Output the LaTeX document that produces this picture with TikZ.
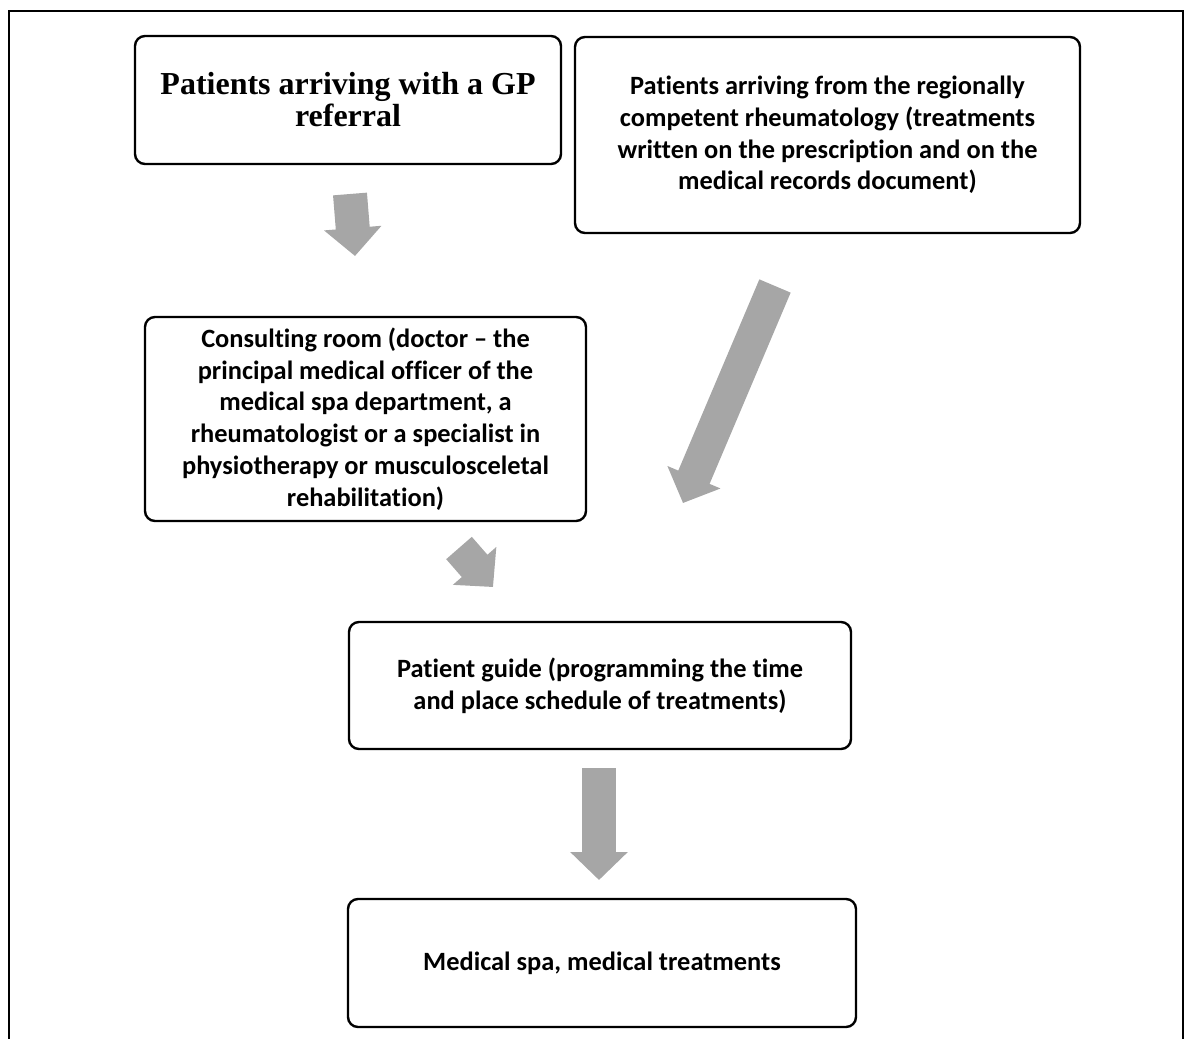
\documentclass[tikz,border=0pt]{standalone}
\usepackage{fontspec}
\setmainfont{Carlito}[Ligatures=NoCommon]
\newfontfamily\timesfont{Liberation Serif}
\usetikzlibrary{positioning,arrows.meta}
\definecolor{arrowgray}{HTML}{A6A6A6}
\tikzset{
	stepbox/.style={draw, line width=1.2pt, rounded corners=5pt, align=center, inner sep=0pt, font=\bfseries\fontsize{13.2}{15.9}\selectfont},
	flowarrow/.style={arrowgray, line width=17pt, -{Triangle[width=28pt,length=14pt]}}
}
\begin{document}
\begin{tikzpicture}[x=0.5pt,y=-0.5pt]
	\useasboundingbox (0,0) rectangle (1185,1039);
	%%%frame
	\draw[line width=1pt] (9,1039) -- (9,11) -- (1183,11) -- (1183,1039);
	%%%nodes
	%top row
	\node[stepbox, minimum width=213pt, minimum height=64pt, font=\timesfont\bfseries\fontsize{16}{16}\selectfont] at (348,100) (gp){Patients arriving with a GP\\referral};
	\node[stepbox, minimum width=252.5pt, minimum height=98pt] at (827.5,135) (rheum){Patients arriving from the regionally\\competent rheumatology (treatments\\written on the prescription and on the\\medical records document)};
	%middle
	\node[stepbox, minimum width=220.5pt, minimum height=102pt] at (365.5,419) (consult){Consulting room (doctor – the\\principal medical officer of the\\medical spa department, a\\rheumatologist or a specialist in\\physiotherapy or musculosceletal\\rehabilitation)};
	\node[stepbox, minimum width=251pt, minimum height=63.5pt] at (600,685.5) (guide){Patient guide (programming the time\\and place schedule of treatments)};
	%bottom
	\node[stepbox, minimum width=254pt, minimum height=64pt] at (602,963) (spa){Medical spa, medical treatments};
	%%%arrow ends
	\coordinate (gpA) at (350,194);
	\coordinate (gpB) at (355,256);
	\coordinate (rheumA) at (775,286);
	\coordinate (rheumB) at (683,503);
	\coordinate (consultA) at (459,548);
	\coordinate (consultB) at (493,587);
	\coordinate (guideA) at (599,768);
	\coordinate (guideB) at (599,880);
	%%%links
	\draw[flowarrow] (gpA) -- (gpB);
	\draw[flowarrow] (rheumA) -- (rheumB);
	\draw[flowarrow] (consultA) -- (consultB);
	\draw[flowarrow] (guideA) -- (guideB);
\end{tikzpicture}
\end{document}
